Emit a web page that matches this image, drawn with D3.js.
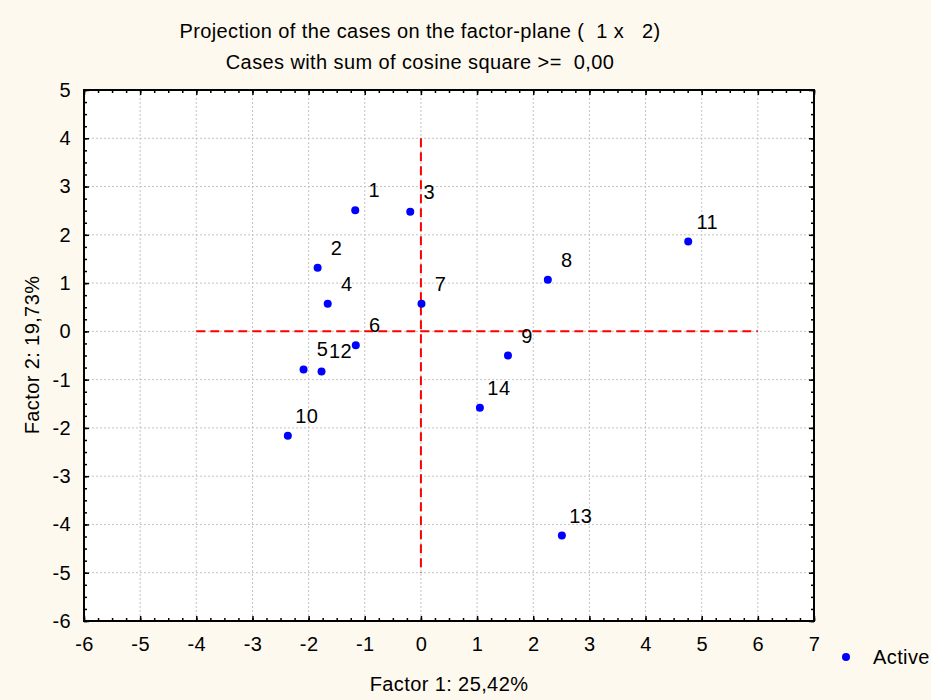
<!DOCTYPE html>
<html>
<head>
<meta charset="utf-8">
<script src="https://cdn.jsdelivr.net/npm/d3@7"></script>
<style>
  body { margin: 0; background: #fef9ee; }
  text { font-family: "Liberation Sans", Arial, sans-serif; fill: #000; white-space: pre; letter-spacing: 0.4px; }
</style>
</head>
<body>
<div id="canvas"></div>
<script>
// case scores on factor 1 / factor 2
const caseLabels = ["1", "2", "3", "4", "5", "6", "7", "8", "9", "10", "11", "12", "13", "14"];
const factor1 = [-1.17, -1.84, -0.19, -1.66, -2.09, -1.16, 0.01, 2.26, 1.55, -2.37, 4.76, -1.77, 2.51, 1.05];
const factor2 = [2.51, 1.32, 2.48, 0.57, -0.79, -0.29, 0.57, 1.07, -0.50, -2.16, 1.86, -0.83, -4.23, -1.58];
const xTicks = [-6, -5, -4, -3, -2, -1, 0, 1, 2, 3, 4, 5, 6, 7];
const yTicks = [-6, -5, -4, -3, -2, -1, 0, 1, 2, 3, 4, 5];
// red reference cross
const hLine = [[-4, 0], [6, 0]];
const vLine = [[0, 4], [0, -5]];

const W = 931, H = 700;
const margin = { top: 90, right: 117, bottom: 79, left: 84 },
    width = W - margin.left - margin.right,
    height = H - margin.top - margin.bottom;

const root = d3.select("#canvas")
    .append("svg")
    .attr("width", W)
    .attr("height", H);

root.append("rect").attr("width", W).attr("height", H).attr("fill", "#fef9ee");

root.append("text").attr("x", 420).attr("y", 38).attr("text-anchor", "middle")
    .style("font-size", "20px").text("Projection of the cases on the factor-plane (  1 x   2)");
root.append("text").attr("x", 420).attr("y", 69).attr("text-anchor", "middle")
    .style("font-size", "20px").text("Cases with sum of cosine square >=  0,00");

const svg = root.append("g")
    .attr("transform", `translate(${margin.left},${margin.top})`);

const x = d3.scaleLinear().domain([-6, 7]).range([0, width]);
const y = d3.scaleLinear().domain([-6, 5]).range([height, 0]);

svg.append("rect").attr("width", width).attr("height", height).attr("fill", "#fff");

// grid
svg.append("g").selectAll("line")
    .data(xTicks.slice(1, -1))
    .join("line")
    .attr("x1", d => x(d)).attr("x2", d => x(d))
    .attr("y1", 0).attr("y2", height)
    .attr("stroke", "#c4c4c4").attr("stroke-dasharray", "2,2");
svg.append("g").selectAll("line")
    .data(yTicks.slice(1, -1))
    .join("line")
    .attr("y1", d => y(d)).attr("y2", d => y(d))
    .attr("x1", 0).attr("x2", width)
    .attr("stroke", "#c4c4c4").attr("stroke-dasharray", "2,2");

// axes: major + minor ticks pointing inward
const xMinor = d3.range(-6, 7.01, 0.25);
const yMinor = d3.range(-6, 5.01, 0.25);
const fmt = d => String(d);

function tickStyle(g) {
    g.select(".domain").remove();
    g.selectAll("line").attr("stroke", "#000").attr("stroke-width", 1.5);
}

svg.append("g").attr("transform", `translate(0,${height})`)
    .call(d3.axisBottom(x).tickValues(xMinor).tickSize(-3).tickFormat(""))
    .call(tickStyle);
svg.append("g").attr("transform", `translate(0,${height})`)
    .call(d3.axisBottom(x).tickValues(xTicks).tickSize(-5).tickPadding(16).tickFormat(fmt))
    .call(tickStyle)
    .call(g => g.selectAll("text").style("font-size", "20px").attr("fill", "#000"));
svg.append("g")
    .call(d3.axisTop(x).tickValues(xMinor).tickSize(-3).tickFormat(""))
    .call(tickStyle);
svg.append("g")
    .call(d3.axisTop(x).tickValues(xTicks).tickSize(-5).tickFormat(""))
    .call(tickStyle);

svg.append("g")
    .call(d3.axisLeft(y).tickValues(yMinor).tickSize(-3).tickFormat(""))
    .call(tickStyle);
svg.append("g")
    .call(d3.axisLeft(y).tickValues(yTicks).tickSize(-5).tickPadding(13).tickFormat(fmt))
    .call(tickStyle)
    .call(g => g.selectAll("text").style("font-size", "20px").attr("fill", "#000"));
svg.append("g").attr("transform", `translate(${width},0)`)
    .call(d3.axisRight(y).tickValues(yMinor).tickSize(-3).tickFormat(""))
    .call(tickStyle);
svg.append("g").attr("transform", `translate(${width},0)`)
    .call(d3.axisRight(y).tickValues(yTicks).tickSize(-5).tickFormat(""))
    .call(tickStyle);

// frame
svg.append("rect").attr("width", width).attr("height", height)
    .attr("fill", "none").attr("stroke", "#000").attr("stroke-width", 2);

// red dashed cross
const line = d3.line().x(d => x(d[0])).y(d => y(d[1]));
[hLine, vLine].forEach(l => {
    svg.append("path").datum(l)
        .attr("d", line)
        .attr("fill", "none")
        .attr("stroke", "#ff0000")
        .attr("stroke-width", 2)
        .attr("stroke-dasharray", "9,5");
});

// points
const data = caseLabels.map((c, i) => ({ label: c, f1: factor1[i], f2: factor2[i] }));

svg.append("g").selectAll("circle")
    .data(data)
    .join("circle")
    .attr("cx", d => x(d.f1))
    .attr("cy", d => y(d.f2))
    .attr("r", 4)
    .attr("fill", "#0000ff");

svg.append("g").selectAll("text")
    .data(data)
    .join("text")
    .attr("x", d => x(d.f1) + 19)
    .attr("y", d => y(d.f2) - 13)
    .attr("text-anchor", "middle")
    .style("font-size", "20px")
    .text(d => d.label);

// axis titles
root.append("text").attr("x", 449).attr("y", 691).attr("text-anchor", "middle")
    .style("font-size", "20px").text("Factor 1: 25,42%");
root.append("text")
    .attr("transform", "translate(39,355) rotate(-90)")
    .attr("text-anchor", "middle")
    .style("font-size", "20px").text("Factor 2: 19,73%");

// legend
root.append("circle").attr("cx", 846).attr("cy", 657).attr("r", 4).attr("fill", "#0000ff");
root.append("text").attr("x", 873).attr("y", 664).style("font-size", "20px").text("Active");
</script>
</body>
</html>
